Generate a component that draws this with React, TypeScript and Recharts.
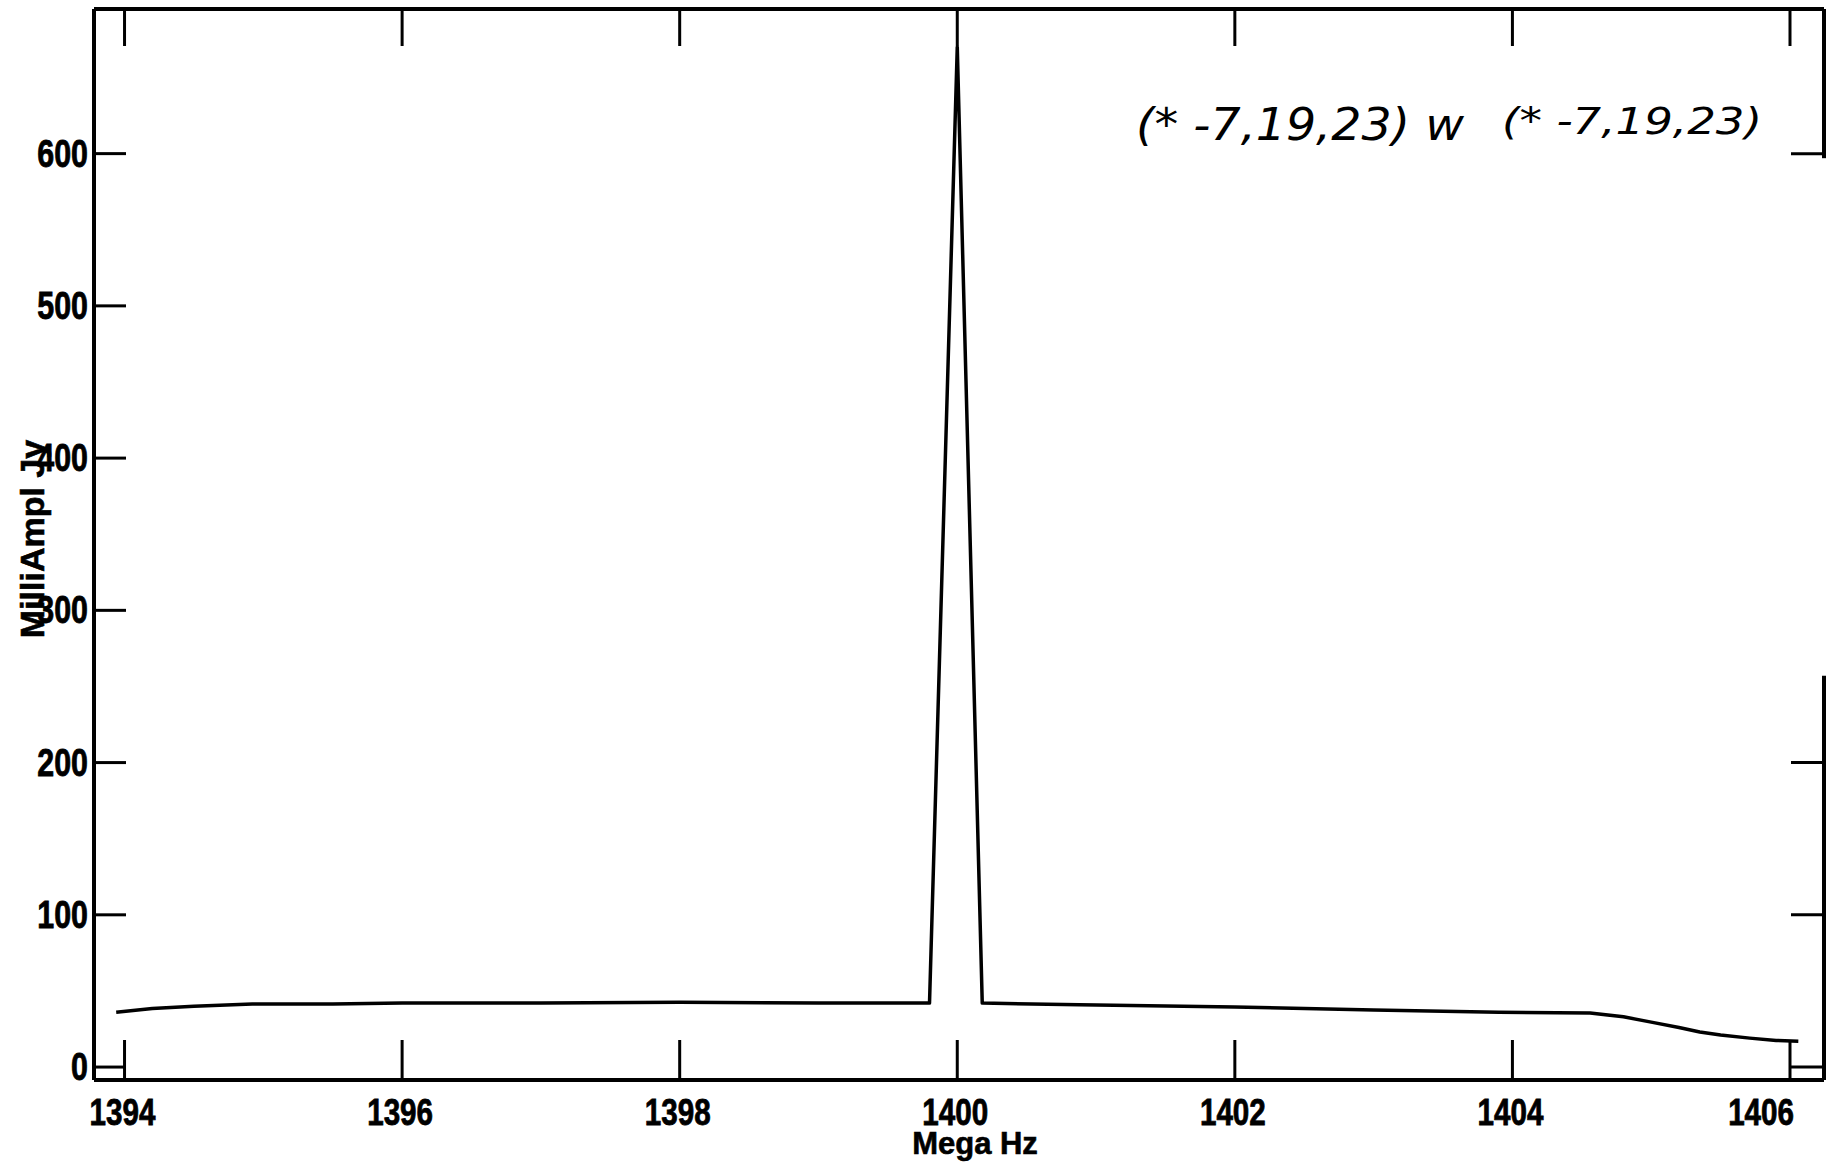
import React from 'react';
import { LineChart, Line, XAxis, YAxis, ReferenceLine } from 'recharts';

// spectrum
const freqMHz = [
  1393.94, 1394.2, 1394.5, 1394.92, 1395.5, 1396, 1397, 1398, 1399, 1399.8,
  1400, 1400.18, 1400.88, 1402, 1403, 1403.9, 1404.56, 1404.8, 1405.0, 1405.2,
  1405.35, 1405.5, 1405.71, 1405.9, 1406.06,
];
const milliJy = [
  36, 38.5, 40, 41.5, 41.5, 42, 42, 42.5, 42, 42,
  670, 42, 41, 39.5, 37.5, 36, 35.5, 33, 29.5, 26,
  23, 21, 19, 17.5, 17,
];

const xTicks = [1394, 1396, 1398, 1400, 1402, 1404, 1406];
const yTicks = [0, 100, 200, 300, 400, 500, 600];
const rightTicks = [0, 100, 200, 600];
const xDomain: [number, number] = [1393.78, 1406.245];
const yDomain: [number, number] = [-8.5, 695];

const note1 = '(* -7,19,23) w';
const note2 = '(* -7,19,23)';

const rows = freqMHz.map((f, i) => ({ mhz: f, amp: milliJy[i] }));

const FONT = "'Liberation Sans', Arial, Helvetica, sans-serif";
const INK = '#000';

const BottomTick = (props: any) => {
  const { x, y, payload, index } = props;
  const last = index === xTicks.length - 1;
  return (
    <g>
      <line x1={x} y1={y} x2={x} y2={y - 40} stroke={INK} strokeWidth={3} />
      <text
        transform={`translate(${last ? x + 4 : x - 2},${y + 45}) scale(0.8,1)`}
        textAnchor={last ? 'end' : 'middle'}
        fontFamily={FONT}
        fontWeight="bold"
        fontSize={37}
        stroke={INK}
        strokeWidth={0.8}
        fill={INK}
      >
        {payload.value}
      </text>
    </g>
  );
};

const TopTick = (props: any) => {
  const { x, y } = props;
  return <line x1={x} y1={y} x2={x} y2={y + 37} stroke={INK} strokeWidth={3} />;
};

const LeftTick = (props: any) => {
  const { x, y, payload } = props;
  return (
    <g>
      <line x1={x} y1={y} x2={x + 32} y2={y} stroke={INK} strokeWidth={3} />
      <text
        transform={`translate(${x - 6},${y + 13}) scale(0.8,1)`}
        textAnchor="end"
        fontFamily={FONT}
        fontWeight="bold"
        fontSize={38}
        stroke={INK}
        strokeWidth={0.8}
        fill={INK}
      >
        {payload.value}
      </text>
    </g>
  );
};

const RightTick = (props: any) => {
  const { x, y } = props;
  return <line x1={x} y1={y} x2={x - 33} y2={y} stroke={INK} strokeWidth={3} />;
};

export default function App() {
  return (
    <div style={{ position: 'absolute', left: 0, top: 0, width: 1836, height: 1163, background: '#fff' }}>
      <LineChart width={1836} height={1163} data={rows} margin={{ top: 8, right: 11, left: 0, bottom: 0 }}>
        <XAxis
          xAxisId="b"
          dataKey="mhz"
          type="number"
          domain={xDomain}
          allowDataOverflow
          ticks={xTicks}
          interval={0}
          height={83}
          axisLine={{ stroke: INK, strokeWidth: 4 }}
          tickLine={false}
          tickSize={0}
          tickMargin={0}
          tick={<BottomTick />}
        />
        <XAxis
          xAxisId="t"
          orientation="top"
          dataKey="mhz"
          type="number"
          domain={xDomain}
          allowDataOverflow
          ticks={xTicks}
          interval={0}
          height={1}
          axisLine={{ stroke: INK, strokeWidth: 4 }}
          tickLine={false}
          tickSize={0}
          tickMargin={0}
          tick={<TopTick />}
        />
        <YAxis
          yAxisId="l"
          type="number"
          domain={yDomain}
          allowDataOverflow
          ticks={yTicks}
          interval={0}
          width={94}
          axisLine={{ stroke: INK, strokeWidth: 4 }}
          tickLine={false}
          tickSize={0}
          tickMargin={0}
          tick={<LeftTick />}
        />
        <YAxis
          yAxisId="r"
          orientation="right"
          type="number"
          domain={yDomain}
          allowDataOverflow
          ticks={rightTicks}
          interval={0}
          width={1}
          axisLine={false}
          tickLine={false}
          tickSize={0}
          tickMargin={0}
          tick={<RightTick />}
        />
        {/* right frame is broken in the scan */}
        <ReferenceLine
          xAxisId="b"
          yAxisId="l"
          segment={[{ x: xDomain[1], y: yDomain[1] }, { x: xDomain[1], y: 597 }]}
          stroke={INK}
          strokeWidth={4}
        />
        <ReferenceLine
          xAxisId="b"
          yAxisId="l"
          segment={[{ x: xDomain[1], y: 257 }, { x: xDomain[1], y: yDomain[0] }]}
          stroke={INK}
          strokeWidth={4}
        />
        <Line
          xAxisId="b"
          yAxisId="l"
          dataKey="amp"
          type="linear"
          stroke={INK}
          strokeWidth={3.5}
          strokeLinejoin="round"
          dot={false}
          activeDot={false}
          isAnimationActive={false}
        />
      </LineChart>
      <svg
        width={1836}
        height={1163}
        style={{ position: 'absolute', left: 0, top: 0, pointerEvents: 'none' }}
      >
        <text
          x={975}
          y={1154}
          textAnchor="middle"
          fontFamily={FONT}
          fontWeight="bold"
          fontSize={31}
          stroke={INK}
          strokeWidth={0.6}
          fill={INK}
        >
          Mega Hz
        </text>
        <text
          transform="translate(44,539) rotate(-90)"
          textAnchor="middle"
          fontFamily={FONT}
          fontWeight="bold"
          fontSize={34}
          stroke={INK}
          strokeWidth={0.6}
          fill={INK}
        >
          MilliAmpl Jy
        </text>
        <text
          x={1136}
          y={140}
          fontFamily="'DejaVu Sans', sans-serif"
          fontStyle="italic"
          fontSize={44}
          textLength={328}
          lengthAdjust="spacingAndGlyphs"
          fill={INK}
        >
          {note1}
        </text>
        <text
          x={1502}
          y={134}
          fontFamily="'DejaVu Sans', sans-serif"
          fontStyle="italic"
          fontSize={38}
          textLength={260}
          lengthAdjust="spacingAndGlyphs"
          fill={INK}
        >
          {note2}
        </text>
      </svg>
    </div>
  );
}
